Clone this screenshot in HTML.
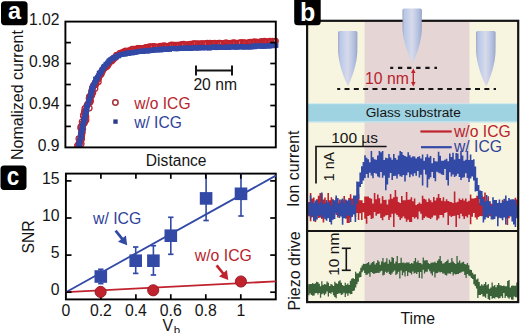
<!DOCTYPE html>
<html><head><meta charset="utf-8"><style>
html,body{margin:0;padding:0;background:#fff;}
body{width:520px;height:333px;overflow:hidden;font-family:"Liberation Sans",sans-serif;}
svg{display:block;}
</style></head><body>
<svg width="520" height="333" viewBox="0 0 520 333">
<rect x="1" y="1.2" width="26.6" height="24" rx="3.6" fill="#000"/>
<text x="14.5" y="19.3" font-family="Liberation Sans, sans-serif" font-size="23.5" fill="#fff" text-anchor="middle" font-weight="bold">a</text>
<clipPath id="ca"><rect x="65.4" y="21.6" width="215.4" height="125.80000000000001"/></clipPath>
<g clip-path="url(#ca)">
<g fill="none" stroke="#c0232e" stroke-width="1.25"><circle cx="76.6" cy="153.4" r="2.75"/><circle cx="77.9" cy="152.8" r="2.75"/><circle cx="77.8" cy="152.2" r="2.75"/><circle cx="78.9" cy="149.7" r="2.75"/><circle cx="77.9" cy="149.8" r="2.75"/><circle cx="79.2" cy="147.9" r="2.75"/><circle cx="77.5" cy="146.1" r="2.75"/><circle cx="77.7" cy="145.3" r="2.75"/><circle cx="81.3" cy="143.8" r="2.75"/><circle cx="79.0" cy="143.2" r="2.75"/><circle cx="80.6" cy="141.7" r="2.75"/><circle cx="80.1" cy="140.2" r="2.75"/><circle cx="81.7" cy="138.9" r="2.75"/><circle cx="78.8" cy="138.5" r="2.75"/><circle cx="81.3" cy="137.1" r="2.75"/><circle cx="81.8" cy="135.4" r="2.75"/><circle cx="81.2" cy="134.2" r="2.75"/><circle cx="81.7" cy="133.4" r="2.75"/><circle cx="82.4" cy="132.5" r="2.75"/><circle cx="81.4" cy="130.0" r="2.75"/><circle cx="82.8" cy="128.9" r="2.75"/><circle cx="80.7" cy="128.0" r="2.75"/><circle cx="80.8" cy="126.9" r="2.75"/><circle cx="83.0" cy="125.1" r="2.75"/><circle cx="82.4" cy="123.8" r="2.75"/><circle cx="84.4" cy="122.9" r="2.75"/><circle cx="82.1" cy="121.9" r="2.75"/><circle cx="85.1" cy="121.2" r="2.75"/><circle cx="86.1" cy="119.8" r="2.75"/><circle cx="84.9" cy="117.7" r="2.75"/><circle cx="86.0" cy="116.5" r="2.75"/><circle cx="83.4" cy="115.9" r="2.75"/><circle cx="83.4" cy="115.2" r="2.75"/><circle cx="85.4" cy="114.1" r="2.75"/><circle cx="85.3" cy="112.1" r="2.75"/><circle cx="84.3" cy="111.6" r="2.75"/><circle cx="85.7" cy="110.5" r="2.75"/><circle cx="84.8" cy="108.5" r="2.75"/><circle cx="89.3" cy="108.0" r="2.75"/><circle cx="86.7" cy="106.1" r="2.75"/><circle cx="87.6" cy="104.6" r="2.75"/><circle cx="87.7" cy="104.1" r="2.75"/><circle cx="89.3" cy="102.4" r="2.75"/><circle cx="90.2" cy="102.1" r="2.75"/><circle cx="90.0" cy="101.3" r="2.75"/><circle cx="90.6" cy="100.2" r="2.75"/><circle cx="89.0" cy="98.3" r="2.75"/><circle cx="89.4" cy="96.6" r="2.75"/><circle cx="89.9" cy="96.6" r="2.75"/><circle cx="91.7" cy="95.5" r="2.75"/><circle cx="91.4" cy="94.4" r="2.75"/><circle cx="92.9" cy="92.7" r="2.75"/><circle cx="91.6" cy="91.6" r="2.75"/><circle cx="91.9" cy="90.0" r="2.75"/><circle cx="95.0" cy="88.6" r="2.75"/><circle cx="92.7" cy="87.6" r="2.75"/><circle cx="92.8" cy="87.0" r="2.75"/><circle cx="93.5" cy="85.3" r="2.75"/><circle cx="95.7" cy="84.7" r="2.75"/><circle cx="95.7" cy="83.3" r="2.75"/><circle cx="96.2" cy="82.1" r="2.75"/><circle cx="98.4" cy="81.7" r="2.75"/><circle cx="96.9" cy="79.5" r="2.75"/><circle cx="98.4" cy="78.8" r="2.75"/><circle cx="98.5" cy="77.3" r="2.75"/><circle cx="98.9" cy="77.3" r="2.75"/><circle cx="99.6" cy="75.6" r="2.75"/><circle cx="101.1" cy="74.3" r="2.75"/><circle cx="101.4" cy="73.0" r="2.75"/><circle cx="101.1" cy="72.6" r="2.75"/><circle cx="102.4" cy="71.3" r="2.75"/><circle cx="102.6" cy="69.9" r="2.75"/><circle cx="103.7" cy="68.7" r="2.75"/><circle cx="104.3" cy="68.3" r="2.75"/><circle cx="105.1" cy="67.5" r="2.75"/><circle cx="106.6" cy="66.5" r="2.75"/><circle cx="107.1" cy="66.1" r="2.75"/><circle cx="108.0" cy="65.1" r="2.75"/><circle cx="108.2" cy="64.2" r="2.75"/><circle cx="109.0" cy="63.1" r="2.75"/><circle cx="109.7" cy="61.7" r="2.75"/><circle cx="111.7" cy="61.0" r="2.75"/><circle cx="112.6" cy="60.1" r="2.75"/><circle cx="112.8" cy="59.4" r="2.75"/><circle cx="113.9" cy="57.8" r="2.75"/><circle cx="114.8" cy="58.0" r="2.75"/><circle cx="116.4" cy="56.1" r="2.75"/><circle cx="116.6" cy="55.2" r="2.75"/><circle cx="117.7" cy="55.0" r="2.75"/><circle cx="119.2" cy="54.3" r="2.75"/><circle cx="120.1" cy="53.2" r="2.75"/><circle cx="122.2" cy="52.6" r="2.75"/><circle cx="123.2" cy="52.6" r="2.75"/><circle cx="124.2" cy="51.5" r="2.75"/><circle cx="125.6" cy="50.9" r="2.75"/><circle cx="126.8" cy="51.4" r="2.75"/><circle cx="128.2" cy="51.0" r="2.75"/><circle cx="129.6" cy="51.1" r="2.75"/><circle cx="129.8" cy="50.3" r="2.75"/><circle cx="131.7" cy="50.5" r="2.75"/><circle cx="132.2" cy="49.2" r="2.75"/><circle cx="133.9" cy="49.0" r="2.75"/><circle cx="135.6" cy="49.6" r="2.75"/><circle cx="137.0" cy="48.8" r="2.75"/><circle cx="138.0" cy="48.4" r="2.75"/><circle cx="138.3" cy="48.4" r="2.75"/><circle cx="140.0" cy="48.5" r="2.75"/><circle cx="140.9" cy="48.3" r="2.75"/><circle cx="143.3" cy="48.4" r="2.75"/><circle cx="143.4" cy="48.7" r="2.75"/><circle cx="144.8" cy="47.8" r="2.75"/><circle cx="146.2" cy="47.3" r="2.75"/><circle cx="147.0" cy="47.7" r="2.75"/><circle cx="149.4" cy="46.7" r="2.75"/><circle cx="150.3" cy="47.1" r="2.75"/><circle cx="150.9" cy="46.9" r="2.75"/><circle cx="152.6" cy="46.9" r="2.75"/><circle cx="153.3" cy="46.3" r="2.75"/><circle cx="155.2" cy="46.9" r="2.75"/><circle cx="156.0" cy="46.9" r="2.75"/><circle cx="156.9" cy="47.0" r="2.75"/><circle cx="158.3" cy="47.1" r="2.75"/><circle cx="160.2" cy="46.2" r="2.75"/><circle cx="161.5" cy="46.5" r="2.75"/><circle cx="162.3" cy="46.1" r="2.75"/><circle cx="164.0" cy="45.7" r="2.75"/><circle cx="164.9" cy="46.5" r="2.75"/><circle cx="165.8" cy="46.2" r="2.75"/><circle cx="167.3" cy="46.4" r="2.75"/><circle cx="168.7" cy="46.2" r="2.75"/><circle cx="170.6" cy="46.2" r="2.75"/><circle cx="170.8" cy="45.0" r="2.75"/><circle cx="172.0" cy="44.8" r="2.75"/><circle cx="173.9" cy="45.0" r="2.75"/><circle cx="175.7" cy="45.2" r="2.75"/><circle cx="176.9" cy="45.5" r="2.75"/><circle cx="177.8" cy="45.1" r="2.75"/><circle cx="178.2" cy="45.1" r="2.75"/><circle cx="180.5" cy="45.4" r="2.75"/><circle cx="181.5" cy="44.3" r="2.75"/><circle cx="182.0" cy="45.1" r="2.75"/><circle cx="183.7" cy="44.2" r="2.75"/><circle cx="184.4" cy="44.4" r="2.75"/><circle cx="186.7" cy="45.0" r="2.75"/><circle cx="187.8" cy="44.8" r="2.75"/><circle cx="189.2" cy="44.4" r="2.75"/><circle cx="190.4" cy="44.2" r="2.75"/><circle cx="191.0" cy="44.9" r="2.75"/><circle cx="192.9" cy="44.0" r="2.75"/><circle cx="193.4" cy="43.6" r="2.75"/><circle cx="194.5" cy="43.9" r="2.75"/><circle cx="196.1" cy="43.5" r="2.75"/><circle cx="197.5" cy="44.6" r="2.75"/><circle cx="198.5" cy="43.6" r="2.75"/><circle cx="200.2" cy="44.7" r="2.75"/><circle cx="201.4" cy="43.6" r="2.75"/><circle cx="202.2" cy="43.7" r="2.75"/><circle cx="203.9" cy="44.0" r="2.75"/><circle cx="204.8" cy="43.6" r="2.75"/><circle cx="206.6" cy="43.6" r="2.75"/><circle cx="207.2" cy="43.2" r="2.75"/><circle cx="209.2" cy="43.6" r="2.75"/><circle cx="209.9" cy="43.0" r="2.75"/><circle cx="211.3" cy="43.3" r="2.75"/><circle cx="212.8" cy="44.2" r="2.75"/><circle cx="213.8" cy="43.3" r="2.75"/><circle cx="214.7" cy="43.2" r="2.75"/><circle cx="216.9" cy="43.8" r="2.75"/><circle cx="217.0" cy="44.0" r="2.75"/><circle cx="218.5" cy="43.2" r="2.75"/><circle cx="220.1" cy="43.2" r="2.75"/><circle cx="220.6" cy="43.7" r="2.75"/><circle cx="222.0" cy="43.7" r="2.75"/><circle cx="224.2" cy="43.4" r="2.75"/><circle cx="225.4" cy="42.8" r="2.75"/><circle cx="226.5" cy="42.8" r="2.75"/><circle cx="228.1" cy="43.5" r="2.75"/><circle cx="229.1" cy="43.4" r="2.75"/><circle cx="229.7" cy="43.7" r="2.75"/><circle cx="231.5" cy="43.5" r="2.75"/><circle cx="232.3" cy="42.9" r="2.75"/><circle cx="234.1" cy="42.5" r="2.75"/><circle cx="234.9" cy="43.5" r="2.75"/><circle cx="235.8" cy="43.2" r="2.75"/><circle cx="238.0" cy="43.0" r="2.75"/><circle cx="239.0" cy="43.1" r="2.75"/><circle cx="240.4" cy="42.6" r="2.75"/><circle cx="241.3" cy="42.5" r="2.75"/><circle cx="242.9" cy="42.8" r="2.75"/><circle cx="243.7" cy="42.6" r="2.75"/><circle cx="245.1" cy="42.9" r="2.75"/><circle cx="245.6" cy="43.2" r="2.75"/><circle cx="247.6" cy="43.0" r="2.75"/><circle cx="249.2" cy="42.3" r="2.75"/><circle cx="250.3" cy="42.2" r="2.75"/><circle cx="251.7" cy="43.0" r="2.75"/><circle cx="252.5" cy="42.2" r="2.75"/><circle cx="254.3" cy="42.7" r="2.75"/><circle cx="254.5" cy="41.6" r="2.75"/><circle cx="256.8" cy="42.1" r="2.75"/><circle cx="257.3" cy="42.1" r="2.75"/><circle cx="258.2" cy="42.5" r="2.75"/><circle cx="260.2" cy="42.5" r="2.75"/><circle cx="261.2" cy="41.4" r="2.75"/><circle cx="262.4" cy="42.0" r="2.75"/><circle cx="264.2" cy="42.0" r="2.75"/><circle cx="264.5" cy="41.2" r="2.75"/><circle cx="266.4" cy="42.1" r="2.75"/><circle cx="267.4" cy="41.6" r="2.75"/><circle cx="268.8" cy="42.1" r="2.75"/><circle cx="270.0" cy="41.0" r="2.75"/><circle cx="270.7" cy="41.4" r="2.75"/><circle cx="272.5" cy="41.0" r="2.75"/><circle cx="274.2" cy="41.4" r="2.75"/><circle cx="274.5" cy="41.3" r="2.75"/><circle cx="275.5" cy="41.1" r="2.75"/></g>
<g fill="#3249a6"><rect x="75.7" y="151.5" width="4.7" height="4.7"/><rect x="76.0" y="150.3" width="4.7" height="4.7"/><rect x="75.6" y="149.6" width="4.7" height="4.7"/><rect x="75.3" y="149.0" width="4.7" height="4.7"/><rect x="76.2" y="147.6" width="4.7" height="4.7"/><rect x="76.6" y="147.0" width="4.7" height="4.7"/><rect x="77.4" y="145.4" width="4.7" height="4.7"/><rect x="77.4" y="144.7" width="4.7" height="4.7"/><rect x="76.2" y="143.7" width="4.7" height="4.7"/><rect x="77.1" y="142.8" width="4.7" height="4.7"/><rect x="76.3" y="141.5" width="4.7" height="4.7"/><rect x="77.6" y="141.0" width="4.7" height="4.7"/><rect x="77.5" y="140.3" width="4.7" height="4.7"/><rect x="77.2" y="139.2" width="4.7" height="4.7"/><rect x="77.8" y="137.3" width="4.7" height="4.7"/><rect x="77.5" y="136.9" width="4.7" height="4.7"/><rect x="77.7" y="135.7" width="4.7" height="4.7"/><rect x="78.8" y="135.0" width="4.7" height="4.7"/><rect x="78.9" y="133.4" width="4.7" height="4.7"/><rect x="78.2" y="133.2" width="4.7" height="4.7"/><rect x="78.4" y="131.8" width="4.7" height="4.7"/><rect x="78.4" y="131.4" width="4.7" height="4.7"/><rect x="78.9" y="129.4" width="4.7" height="4.7"/><rect x="79.9" y="128.9" width="4.7" height="4.7"/><rect x="78.9" y="128.0" width="4.7" height="4.7"/><rect x="80.3" y="127.4" width="4.7" height="4.7"/><rect x="80.6" y="126.3" width="4.7" height="4.7"/><rect x="79.3" y="124.7" width="4.7" height="4.7"/><rect x="80.1" y="123.9" width="4.7" height="4.7"/><rect x="80.3" y="123.4" width="4.7" height="4.7"/><rect x="80.8" y="122.0" width="4.7" height="4.7"/><rect x="81.1" y="120.9" width="4.7" height="4.7"/><rect x="81.2" y="120.6" width="4.7" height="4.7"/><rect x="81.8" y="119.6" width="4.7" height="4.7"/><rect x="81.9" y="118.1" width="4.7" height="4.7"/><rect x="81.1" y="117.3" width="4.7" height="4.7"/><rect x="82.8" y="116.7" width="4.7" height="4.7"/><rect x="81.9" y="115.0" width="4.7" height="4.7"/><rect x="82.3" y="114.8" width="4.7" height="4.7"/><rect x="82.1" y="113.8" width="4.7" height="4.7"/><rect x="82.7" y="112.6" width="4.7" height="4.7"/><rect x="83.5" y="111.6" width="4.7" height="4.7"/><rect x="82.8" y="110.6" width="4.7" height="4.7"/><rect x="84.2" y="109.5" width="4.7" height="4.7"/><rect x="83.4" y="108.5" width="4.7" height="4.7"/><rect x="84.6" y="107.1" width="4.7" height="4.7"/><rect x="83.8" y="106.6" width="4.7" height="4.7"/><rect x="84.6" y="105.7" width="4.7" height="4.7"/><rect x="84.1" y="104.5" width="4.7" height="4.7"/><rect x="84.6" y="103.8" width="4.7" height="4.7"/><rect x="85.5" y="102.6" width="4.7" height="4.7"/><rect x="85.3" y="102.0" width="4.7" height="4.7"/><rect x="85.9" y="100.9" width="4.7" height="4.7"/><rect x="86.2" y="99.3" width="4.7" height="4.7"/><rect x="86.0" y="99.1" width="4.7" height="4.7"/><rect x="86.9" y="97.6" width="4.7" height="4.7"/><rect x="87.4" y="96.4" width="4.7" height="4.7"/><rect x="87.2" y="95.5" width="4.7" height="4.7"/><rect x="87.3" y="94.7" width="4.7" height="4.7"/><rect x="88.4" y="94.0" width="4.7" height="4.7"/><rect x="88.4" y="92.8" width="4.7" height="4.7"/><rect x="88.4" y="91.7" width="4.7" height="4.7"/><rect x="88.6" y="91.4" width="4.7" height="4.7"/><rect x="88.6" y="90.0" width="4.7" height="4.7"/><rect x="89.5" y="89.6" width="4.7" height="4.7"/><rect x="90.0" y="87.9" width="4.7" height="4.7"/><rect x="89.2" y="87.5" width="4.7" height="4.7"/><rect x="89.3" y="86.2" width="4.7" height="4.7"/><rect x="90.7" y="85.8" width="4.7" height="4.7"/><rect x="90.0" y="84.6" width="4.7" height="4.7"/><rect x="90.8" y="83.7" width="4.7" height="4.7"/><rect x="91.8" y="82.1" width="4.7" height="4.7"/><rect x="91.7" y="81.9" width="4.7" height="4.7"/><rect x="92.1" y="80.6" width="4.7" height="4.7"/><rect x="92.3" y="80.1" width="4.7" height="4.7"/><rect x="93.3" y="79.3" width="4.7" height="4.7"/><rect x="93.7" y="77.6" width="4.7" height="4.7"/><rect x="93.1" y="76.6" width="4.7" height="4.7"/><rect x="94.0" y="76.6" width="4.7" height="4.7"/><rect x="95.2" y="75.9" width="4.7" height="4.7"/><rect x="95.1" y="75.0" width="4.7" height="4.7"/><rect x="95.8" y="73.6" width="4.7" height="4.7"/><rect x="96.5" y="73.2" width="4.7" height="4.7"/><rect x="96.9" y="71.4" width="4.7" height="4.7"/><rect x="96.8" y="70.6" width="4.7" height="4.7"/><rect x="98.6" y="70.3" width="4.7" height="4.7"/><rect x="98.6" y="69.4" width="4.7" height="4.7"/><rect x="99.1" y="68.9" width="4.7" height="4.7"/><rect x="99.4" y="67.5" width="4.7" height="4.7"/><rect x="100.2" y="66.9" width="4.7" height="4.7"/><rect x="100.6" y="66.7" width="4.7" height="4.7"/><rect x="101.0" y="65.1" width="4.7" height="4.7"/><rect x="101.4" y="64.4" width="4.7" height="4.7"/><rect x="102.2" y="63.9" width="4.7" height="4.7"/><rect x="102.9" y="63.5" width="4.7" height="4.7"/><rect x="103.5" y="61.9" width="4.7" height="4.7"/><rect x="104.7" y="61.6" width="4.7" height="4.7"/><rect x="105.2" y="60.6" width="4.7" height="4.7"/><rect x="105.9" y="59.8" width="4.7" height="4.7"/><rect x="106.8" y="58.9" width="4.7" height="4.7"/><rect x="106.7" y="58.4" width="4.7" height="4.7"/><rect x="107.8" y="57.9" width="4.7" height="4.7"/><rect x="108.3" y="57.1" width="4.7" height="4.7"/><rect x="109.5" y="56.7" width="4.7" height="4.7"/><rect x="109.9" y="56.3" width="4.7" height="4.7"/><rect x="110.8" y="56.0" width="4.7" height="4.7"/><rect x="111.7" y="55.2" width="4.7" height="4.7"/><rect x="112.9" y="54.6" width="4.7" height="4.7"/><rect x="114.2" y="54.8" width="4.7" height="4.7"/><rect x="114.6" y="53.5" width="4.7" height="4.7"/><rect x="116.1" y="53.0" width="4.7" height="4.7"/><rect x="116.4" y="53.6" width="4.7" height="4.7"/><rect x="117.4" y="52.6" width="4.7" height="4.7"/><rect x="118.6" y="52.2" width="4.7" height="4.7"/><rect x="119.1" y="52.1" width="4.7" height="4.7"/><rect x="120.5" y="51.8" width="4.7" height="4.7"/><rect x="121.6" y="51.6" width="4.7" height="4.7"/><rect x="122.9" y="51.9" width="4.7" height="4.7"/><rect x="123.0" y="51.1" width="4.7" height="4.7"/><rect x="124.8" y="50.7" width="4.7" height="4.7"/><rect x="125.5" y="50.6" width="4.7" height="4.7"/><rect x="126.5" y="51.2" width="4.7" height="4.7"/><rect x="126.9" y="50.5" width="4.7" height="4.7"/><rect x="128.8" y="50.3" width="4.7" height="4.7"/><rect x="129.1" y="50.6" width="4.7" height="4.7"/><rect x="130.4" y="50.6" width="4.7" height="4.7"/><rect x="131.4" y="50.0" width="4.7" height="4.7"/><rect x="132.8" y="50.2" width="4.7" height="4.7"/><rect x="133.5" y="49.5" width="4.7" height="4.7"/><rect x="134.9" y="49.4" width="4.7" height="4.7"/><rect x="135.0" y="49.6" width="4.7" height="4.7"/><rect x="136.5" y="49.1" width="4.7" height="4.7"/><rect x="137.4" y="49.0" width="4.7" height="4.7"/><rect x="138.3" y="48.8" width="4.7" height="4.7"/><rect x="139.4" y="48.7" width="4.7" height="4.7"/><rect x="140.3" y="49.3" width="4.7" height="4.7"/><rect x="141.1" y="49.1" width="4.7" height="4.7"/><rect x="142.4" y="48.3" width="4.7" height="4.7"/><rect x="142.8" y="48.4" width="4.7" height="4.7"/><rect x="144.2" y="48.7" width="4.7" height="4.7"/><rect x="145.2" y="48.8" width="4.7" height="4.7"/><rect x="145.9" y="48.4" width="4.7" height="4.7"/><rect x="147.3" y="48.5" width="4.7" height="4.7"/><rect x="148.4" y="47.8" width="4.7" height="4.7"/><rect x="148.8" y="48.3" width="4.7" height="4.7"/><rect x="150.0" y="48.3" width="4.7" height="4.7"/><rect x="150.8" y="47.8" width="4.7" height="4.7"/><rect x="152.3" y="47.5" width="4.7" height="4.7"/><rect x="152.8" y="47.2" width="4.7" height="4.7"/><rect x="153.9" y="47.8" width="4.7" height="4.7"/><rect x="155.2" y="47.7" width="4.7" height="4.7"/><rect x="156.2" y="46.9" width="4.7" height="4.7"/><rect x="156.7" y="47.4" width="4.7" height="4.7"/><rect x="158.7" y="47.8" width="4.7" height="4.7"/><rect x="158.9" y="46.7" width="4.7" height="4.7"/><rect x="160.3" y="46.8" width="4.7" height="4.7"/><rect x="160.9" y="46.6" width="4.7" height="4.7"/><rect x="162.3" y="47.0" width="4.7" height="4.7"/><rect x="163.0" y="46.8" width="4.7" height="4.7"/><rect x="164.0" y="47.3" width="4.7" height="4.7"/><rect x="165.2" y="46.4" width="4.7" height="4.7"/><rect x="166.3" y="46.4" width="4.7" height="4.7"/><rect x="167.3" y="47.2" width="4.7" height="4.7"/><rect x="168.4" y="46.1" width="4.7" height="4.7"/><rect x="168.9" y="46.3" width="4.7" height="4.7"/><rect x="169.7" y="46.4" width="4.7" height="4.7"/><rect x="170.9" y="45.9" width="4.7" height="4.7"/><rect x="172.0" y="46.2" width="4.7" height="4.7"/><rect x="173.3" y="46.5" width="4.7" height="4.7"/><rect x="174.1" y="46.4" width="4.7" height="4.7"/><rect x="175.0" y="46.4" width="4.7" height="4.7"/><rect x="175.7" y="46.4" width="4.7" height="4.7"/><rect x="177.3" y="46.3" width="4.7" height="4.7"/><rect x="177.8" y="45.6" width="4.7" height="4.7"/><rect x="179.2" y="46.2" width="4.7" height="4.7"/><rect x="180.4" y="46.1" width="4.7" height="4.7"/><rect x="181.3" y="45.7" width="4.7" height="4.7"/><rect x="181.8" y="45.9" width="4.7" height="4.7"/><rect x="183.0" y="45.6" width="4.7" height="4.7"/><rect x="184.7" y="46.3" width="4.7" height="4.7"/><rect x="184.7" y="45.6" width="4.7" height="4.7"/><rect x="186.4" y="45.4" width="4.7" height="4.7"/><rect x="187.1" y="46.1" width="4.7" height="4.7"/><rect x="188.3" y="46.0" width="4.7" height="4.7"/><rect x="189.1" y="46.1" width="4.7" height="4.7"/><rect x="189.8" y="45.8" width="4.7" height="4.7"/><rect x="191.2" y="45.5" width="4.7" height="4.7"/><rect x="191.6" y="45.5" width="4.7" height="4.7"/><rect x="193.6" y="45.6" width="4.7" height="4.7"/><rect x="194.5" y="45.6" width="4.7" height="4.7"/><rect x="195.0" y="46.0" width="4.7" height="4.7"/><rect x="196.2" y="45.2" width="4.7" height="4.7"/><rect x="197.2" y="45.7" width="4.7" height="4.7"/><rect x="198.7" y="44.8" width="4.7" height="4.7"/><rect x="198.7" y="45.0" width="4.7" height="4.7"/><rect x="199.9" y="45.8" width="4.7" height="4.7"/><rect x="201.1" y="45.0" width="4.7" height="4.7"/><rect x="202.5" y="45.3" width="4.7" height="4.7"/><rect x="203.4" y="45.7" width="4.7" height="4.7"/><rect x="204.1" y="45.4" width="4.7" height="4.7"/><rect x="204.6" y="45.2" width="4.7" height="4.7"/><rect x="206.3" y="45.4" width="4.7" height="4.7"/><rect x="207.1" y="45.7" width="4.7" height="4.7"/><rect x="207.7" y="45.6" width="4.7" height="4.7"/><rect x="209.3" y="44.8" width="4.7" height="4.7"/><rect x="210.1" y="44.7" width="4.7" height="4.7"/><rect x="211.0" y="44.8" width="4.7" height="4.7"/><rect x="211.9" y="44.7" width="4.7" height="4.7"/><rect x="213.2" y="45.3" width="4.7" height="4.7"/><rect x="213.9" y="45.4" width="4.7" height="4.7"/><rect x="215.1" y="44.6" width="4.7" height="4.7"/><rect x="216.7" y="44.5" width="4.7" height="4.7"/><rect x="217.1" y="44.8" width="4.7" height="4.7"/><rect x="217.9" y="45.1" width="4.7" height="4.7"/><rect x="219.2" y="45.2" width="4.7" height="4.7"/><rect x="220.6" y="44.9" width="4.7" height="4.7"/><rect x="221.6" y="45.0" width="4.7" height="4.7"/><rect x="222.4" y="45.3" width="4.7" height="4.7"/><rect x="223.6" y="45.3" width="4.7" height="4.7"/><rect x="224.4" y="44.4" width="4.7" height="4.7"/><rect x="225.4" y="45.0" width="4.7" height="4.7"/><rect x="226.1" y="45.1" width="4.7" height="4.7"/><rect x="226.8" y="45.2" width="4.7" height="4.7"/><rect x="228.4" y="44.7" width="4.7" height="4.7"/><rect x="229.3" y="44.3" width="4.7" height="4.7"/><rect x="230.7" y="44.7" width="4.7" height="4.7"/><rect x="231.0" y="44.5" width="4.7" height="4.7"/><rect x="232.6" y="44.5" width="4.7" height="4.7"/><rect x="232.9" y="45.0" width="4.7" height="4.7"/><rect x="234.7" y="44.8" width="4.7" height="4.7"/><rect x="235.7" y="44.8" width="4.7" height="4.7"/><rect x="235.7" y="44.7" width="4.7" height="4.7"/><rect x="237.0" y="44.1" width="4.7" height="4.7"/><rect x="238.7" y="44.0" width="4.7" height="4.7"/><rect x="239.7" y="44.4" width="4.7" height="4.7"/><rect x="240.3" y="44.8" width="4.7" height="4.7"/><rect x="240.8" y="44.6" width="4.7" height="4.7"/><rect x="241.6" y="44.7" width="4.7" height="4.7"/><rect x="242.9" y="44.5" width="4.7" height="4.7"/><rect x="244.6" y="44.6" width="4.7" height="4.7"/><rect x="245.5" y="44.8" width="4.7" height="4.7"/><rect x="246.1" y="44.5" width="4.7" height="4.7"/><rect x="247.4" y="44.6" width="4.7" height="4.7"/><rect x="248.6" y="44.7" width="4.7" height="4.7"/><rect x="248.9" y="44.4" width="4.7" height="4.7"/><rect x="250.6" y="44.5" width="4.7" height="4.7"/><rect x="250.9" y="43.6" width="4.7" height="4.7"/><rect x="252.0" y="43.5" width="4.7" height="4.7"/><rect x="252.7" y="44.5" width="4.7" height="4.7"/><rect x="253.8" y="43.7" width="4.7" height="4.7"/><rect x="255.2" y="43.7" width="4.7" height="4.7"/><rect x="255.6" y="43.5" width="4.7" height="4.7"/><rect x="257.2" y="44.0" width="4.7" height="4.7"/><rect x="257.8" y="43.3" width="4.7" height="4.7"/><rect x="259.4" y="44.1" width="4.7" height="4.7"/><rect x="259.7" y="43.5" width="4.7" height="4.7"/><rect x="260.8" y="43.9" width="4.7" height="4.7"/><rect x="261.9" y="44.1" width="4.7" height="4.7"/><rect x="263.2" y="43.8" width="4.7" height="4.7"/><rect x="264.5" y="43.4" width="4.7" height="4.7"/><rect x="265.4" y="43.6" width="4.7" height="4.7"/><rect x="266.4" y="43.8" width="4.7" height="4.7"/><rect x="267.3" y="43.6" width="4.7" height="4.7"/><rect x="268.2" y="43.0" width="4.7" height="4.7"/><rect x="269.0" y="42.7" width="4.7" height="4.7"/><rect x="269.8" y="43.6" width="4.7" height="4.7"/><rect x="271.5" y="43.3" width="4.7" height="4.7"/><rect x="272.0" y="42.6" width="4.7" height="4.7"/><rect x="273.3" y="43.1" width="4.7" height="4.7"/><rect x="273.7" y="43.1" width="4.7" height="4.7"/></g>
</g>
<rect x="65.4" y="21.6" width="210.4" height="125.80000000000001" fill="none" stroke="#000" stroke-width="1.9"/>
<line x1="65.4" y1="126.4" x2="70.9" y2="126.4" stroke="#000" stroke-width="1.7"/>
<line x1="275.8" y1="126.4" x2="270.3" y2="126.4" stroke="#000" stroke-width="1.7"/>
<line x1="65.4" y1="105.5" x2="70.9" y2="105.5" stroke="#000" stroke-width="1.7"/>
<line x1="275.8" y1="105.5" x2="270.3" y2="105.5" stroke="#000" stroke-width="1.7"/>
<line x1="65.4" y1="84.5" x2="70.9" y2="84.5" stroke="#000" stroke-width="1.7"/>
<line x1="275.8" y1="84.5" x2="270.3" y2="84.5" stroke="#000" stroke-width="1.7"/>
<line x1="65.4" y1="63.5" x2="70.9" y2="63.5" stroke="#000" stroke-width="1.7"/>
<line x1="275.8" y1="63.5" x2="270.3" y2="63.5" stroke="#000" stroke-width="1.7"/>
<line x1="65.4" y1="42.6" x2="70.9" y2="42.6" stroke="#000" stroke-width="1.7"/>
<line x1="275.8" y1="42.6" x2="270.3" y2="42.6" stroke="#000" stroke-width="1.7"/>
<text x="59.5" y="24.7" font-family="Liberation Sans, sans-serif" font-size="15.7" fill="#151515" text-anchor="end">1.02</text>
<text x="59.5" y="66.6" font-family="Liberation Sans, sans-serif" font-size="15.7" fill="#151515" text-anchor="end">0.98</text>
<text x="59.5" y="108.6" font-family="Liberation Sans, sans-serif" font-size="15.7" fill="#151515" text-anchor="end">0.94</text>
<text x="59.5" y="150.5" font-family="Liberation Sans, sans-serif" font-size="15.7" fill="#151515" text-anchor="end">0.9</text>
<text transform="translate(22.7,95.1) rotate(-90)" font-family="Liberation Sans, sans-serif" font-size="16" fill="#151515" text-anchor="middle">Nomalized current</text>
<text x="176.2" y="166.4" font-family="Liberation Sans, sans-serif" font-size="15.6" fill="#151515" text-anchor="middle">Distance</text>
<line x1="196" y1="70.4" x2="232" y2="70.4" stroke="#151515" stroke-width="2"/>
<line x1="196" y1="65.4" x2="196" y2="75.4" stroke="#151515" stroke-width="2"/>
<line x1="232" y1="65.4" x2="232" y2="75.4" stroke="#151515" stroke-width="2"/>
<text x="215.2" y="90.4" font-family="Liberation Sans, sans-serif" font-size="15.7" fill="#151515" text-anchor="middle">20 nm</text>
<circle cx="115.4" cy="102.5" r="2.7" fill="none" stroke="#a83035" stroke-width="1.5"/>
<rect x="113.3" y="119.4" width="4.4" height="4.4" fill="#2e3d8a"/>
<text x="134.2" y="108.7" font-family="Liberation Sans, sans-serif" font-size="15.6" fill="#b7242c">w/o ICG</text>
<text x="134.2" y="128" font-family="Liberation Sans, sans-serif" font-size="15.6" fill="#30429a">w/ ICG</text>
<rect x="0.5" y="165.4" width="26" height="24.5" rx="3.6" fill="#000"/>
<text transform="translate(13,185.1) scale(0.9,1)" font-family="Liberation Sans, sans-serif" font-size="25" font-weight="bold" fill="#fff" text-anchor="middle">c</text>
<rect x="65.9" y="173.6" width="209.9" height="125.8" fill="none" stroke="#000" stroke-width="1.9"/>
<line x1="100.9" y1="299.4" x2="100.9" y2="294.2" stroke="#000" stroke-width="1.7"/>
<line x1="135.9" y1="299.4" x2="135.9" y2="294.2" stroke="#000" stroke-width="1.7"/>
<line x1="170.8" y1="299.4" x2="170.8" y2="294.2" stroke="#000" stroke-width="1.7"/>
<line x1="205.8" y1="299.4" x2="205.8" y2="294.2" stroke="#000" stroke-width="1.7"/>
<line x1="240.8" y1="299.4" x2="240.8" y2="294.2" stroke="#000" stroke-width="1.7"/>
<line x1="65.9" y1="292.2" x2="275.8" y2="175.6" stroke="#3249a6" stroke-width="1.8"/>
<line x1="65.9" y1="292.2" x2="275.8" y2="281.4" stroke="#c0232e" stroke-width="1.8"/>
<line x1="100.8" y1="283.6" x2="100.8" y2="269.3" stroke="#3249a6" stroke-width="1.6"/>
<line x1="98.1" y1="283.6" x2="103.5" y2="283.6" stroke="#3249a6" stroke-width="1.7"/>
<line x1="98.1" y1="269.3" x2="103.5" y2="269.3" stroke="#3249a6" stroke-width="1.7"/>
<rect x="94.5" y="270.2" width="12.6" height="12.6" fill="#3249a6"/>
<line x1="135.7" y1="273.4" x2="135.7" y2="247" stroke="#3249a6" stroke-width="1.6"/>
<line x1="133" y1="273.4" x2="138.4" y2="273.4" stroke="#3249a6" stroke-width="1.7"/>
<line x1="133" y1="247" x2="138.4" y2="247" stroke="#3249a6" stroke-width="1.7"/>
<rect x="129.4" y="254.4" width="12.6" height="12.6" fill="#3249a6"/>
<line x1="153.4" y1="275" x2="153.4" y2="245.7" stroke="#3249a6" stroke-width="1.6"/>
<line x1="150.7" y1="275" x2="156.1" y2="275" stroke="#3249a6" stroke-width="1.7"/>
<line x1="150.7" y1="245.7" x2="156.1" y2="245.7" stroke="#3249a6" stroke-width="1.7"/>
<rect x="147.1" y="254.4" width="12.6" height="12.6" fill="#3249a6"/>
<line x1="170.8" y1="254.3" x2="170.8" y2="217.3" stroke="#3249a6" stroke-width="1.6"/>
<line x1="168.1" y1="254.3" x2="173.5" y2="254.3" stroke="#3249a6" stroke-width="1.7"/>
<line x1="168.1" y1="217.3" x2="173.5" y2="217.3" stroke="#3249a6" stroke-width="1.7"/>
<rect x="164.5" y="229.4" width="12.6" height="12.6" fill="#3249a6"/>
<line x1="206.1" y1="220.5" x2="206.1" y2="174" stroke="#3249a6" stroke-width="1.6"/>
<line x1="203.4" y1="220.5" x2="208.8" y2="220.5" stroke="#3249a6" stroke-width="1.7"/>
<rect x="199.8" y="192.1" width="12.6" height="12.6" fill="#3249a6"/>
<line x1="241" y1="216" x2="241" y2="173.6" stroke="#3249a6" stroke-width="1.6"/>
<line x1="238.3" y1="216" x2="243.7" y2="216" stroke="#3249a6" stroke-width="1.7"/>
<rect x="234.7" y="187.5" width="12.6" height="12.6" fill="#3249a6"/>
<circle cx="100.6" cy="291.9" r="5.6" fill="#c0232e" stroke="#921a23" stroke-width="0.9"/>
<circle cx="153.2" cy="290.3" r="5.6" fill="#c0232e" stroke="#921a23" stroke-width="0.9"/>
<circle cx="240.9" cy="281.5" r="5.6" fill="#c0232e" stroke="#921a23" stroke-width="0.9"/>
<line x1="100.9" y1="173.6" x2="100.9" y2="178.8" stroke="#000" stroke-width="1.7"/>
<line x1="135.9" y1="173.6" x2="135.9" y2="178.8" stroke="#000" stroke-width="1.7"/>
<line x1="170.8" y1="173.6" x2="170.8" y2="178.8" stroke="#000" stroke-width="1.7"/>
<line x1="205.8" y1="173.6" x2="205.8" y2="178.8" stroke="#000" stroke-width="1.7"/>
<line x1="240.8" y1="173.6" x2="240.8" y2="178.8" stroke="#000" stroke-width="1.7"/>
<line x1="65.9" y1="292.2" x2="71.5" y2="292.2" stroke="#000" stroke-width="1.7"/>
<line x1="275.8" y1="292.2" x2="270.2" y2="292.2" stroke="#000" stroke-width="1.7"/>
<text x="59.6" y="295.3" font-family="Liberation Sans, sans-serif" font-size="15.8" fill="#151515" text-anchor="end">0</text>
<line x1="65.9" y1="255.1" x2="71.5" y2="255.1" stroke="#000" stroke-width="1.7"/>
<line x1="275.8" y1="255.1" x2="270.2" y2="255.1" stroke="#000" stroke-width="1.7"/>
<text x="59.6" y="258.2" font-family="Liberation Sans, sans-serif" font-size="15.8" fill="#151515" text-anchor="end">5</text>
<line x1="65.9" y1="218" x2="71.5" y2="218" stroke="#000" stroke-width="1.7"/>
<line x1="275.8" y1="218" x2="270.2" y2="218" stroke="#000" stroke-width="1.7"/>
<text x="59.6" y="221.1" font-family="Liberation Sans, sans-serif" font-size="15.8" fill="#151515" text-anchor="end">10</text>
<line x1="65.9" y1="180.9" x2="71.5" y2="180.9" stroke="#000" stroke-width="1.7"/>
<line x1="275.8" y1="180.9" x2="270.2" y2="180.9" stroke="#000" stroke-width="1.7"/>
<text x="59.6" y="184" font-family="Liberation Sans, sans-serif" font-size="15.8" fill="#151515" text-anchor="end">15</text>
<text x="65.9" y="316.1" font-family="Liberation Sans, sans-serif" font-size="15.8" fill="#151515" text-anchor="middle">0</text>
<text x="100.9" y="316.1" font-family="Liberation Sans, sans-serif" font-size="15.8" fill="#151515" text-anchor="middle">0.2</text>
<text x="135.9" y="316.1" font-family="Liberation Sans, sans-serif" font-size="15.8" fill="#151515" text-anchor="middle">0.4</text>
<text x="170.8" y="316.1" font-family="Liberation Sans, sans-serif" font-size="15.8" fill="#151515" text-anchor="middle">0.6</text>
<text x="205.8" y="316.1" font-family="Liberation Sans, sans-serif" font-size="15.8" fill="#151515" text-anchor="middle">0.8</text>
<text x="240.8" y="316.1" font-family="Liberation Sans, sans-serif" font-size="15.8" fill="#151515" text-anchor="middle">1</text>
<text x="162.4" y="330.9" font-family="Liberation Sans, sans-serif" font-size="15.8" fill="#151515">V<tspan font-size="11.5" dx="0.8" dy="3">b</tspan></text>
<text transform="translate(34.2,236.9) rotate(-90)" font-family="Liberation Sans, sans-serif" font-size="15.8" fill="#151515" text-anchor="middle">SNR</text>
<text x="93" y="223.6" font-family="Liberation Sans, sans-serif" font-size="15.8" fill="#30429a">w/ ICG</text>
<text x="194.8" y="261.3" font-family="Liberation Sans, sans-serif" font-size="15.8" fill="#b7242c">w/o ICG</text>
<line x1="115.6" y1="230.6" x2="122.6" y2="239.4" stroke="#3249a6" stroke-width="2.7"/>
<polygon points="127.2,245.3 118,241.7 125.9,235.5" fill="#3249a6"/>
<line x1="216.6" y1="265.3" x2="223.6" y2="274" stroke="#c0232e" stroke-width="2.7"/>
<polygon points="228.3,279.9 219.1,276.4 226.9,270.1" fill="#c0232e"/>
<rect x="307.1" y="20.8" width="211.1" height="281.3" fill="#f7f4df"/>
<rect x="364.6" y="20.8" width="104.9" height="281.3" fill="#e5d5d5"/>
<rect x="307.1" y="103.3" width="211.1" height="19.3" fill="#c6e5ee"/>
<rect x="307.1" y="104.2" width="211.1" height="17.0" fill="#a0d3e2"/>
<text x="365.7" y="117" font-family="Liberation Sans, sans-serif" font-size="13.7" fill="#151515">Glass substrate</text>
<defs><linearGradient id="tg" x1="0" x2="1" y1="0" y2="0"><stop offset="0" stop-color="#98a2c0"/><stop offset="0.1" stop-color="#b9c6e4"/><stop offset="0.28" stop-color="#c4d0ec"/><stop offset="0.48" stop-color="#d8dae8"/><stop offset="0.62" stop-color="#cbd1e8"/><stop offset="0.82" stop-color="#b2bfe0"/><stop offset="0.94" stop-color="#a4b0d0"/><stop offset="1" stop-color="#8f9ab8"/></linearGradient></defs>
<line x1="390.2" y1="67.9" x2="437" y2="67.9" stroke="#151515" stroke-width="2.2" stroke-dasharray="4.3,4.8" stroke-dashoffset="1.3"/>
<line x1="337.2" y1="89" x2="496" y2="89" stroke="#151515" stroke-width="2.2" stroke-dasharray="5,4.32" stroke-dashoffset="2"/>
<text x="365" y="83.8" font-family="Liberation Sans, sans-serif" font-size="15.8" fill="#b7242c">10 nm</text>
<line x1="413.3" y1="72" x2="413.3" y2="83" stroke="#c0232e" stroke-width="1.4"/>
<polygon points="413.3,68.5 411,73 415.6,73" fill="#c0232e"/>
<polygon points="413.3,86.5 411,82 415.6,82" fill="#c0232e"/>
<polygon points="308.2,201.9 309.8,201.9 309.8,193.1 311.4,193.1 311.4,198.5 313,198.5 313,197.5 314.6,197.5 314.6,203.2 316.2,203.2 316.2,199.2 317.8,199.2 317.8,195.8 319.4,195.8 319.4,193 321,193 321,193.9 322.6,193.9 322.6,199.4 324.2,199.4 324.2,197.4 325.8,197.4 325.8,202.2 327.4,202.2 327.4,192.9 329,192.9 329,200.2 330.6,200.2 330.6,197.2 332.2,197.2 332.2,199.6 333.8,199.6 333.8,207 335.4,207 335.4,197.6 337,197.6 337,203.1 338.6,203.1 338.6,199.4 340.2,199.4 340.2,202.1 341.8,202.1 341.8,200.2 343.4,200.2 343.4,196 345,196 345,200.6 346.6,200.6 346.6,203.2 348.2,203.2 348.2,198 349.8,198 349.8,194.3 351.4,194.3 351.4,198.6 353,198.6 353,199.5 354.6,199.5 354.6,201.8 356.2,201.8 356.2,195.8 357.8,195.8 357.8,194.2 359.4,194.2 359.4,200.3 361,200.3 361,200.2 362.6,200.2 362.6,203.1 364.2,203.1 364.2,196.4 365.8,196.4 365.8,196.5 367.4,196.5 367.4,196.5 369,196.5 369,198.1 370.6,198.1 370.6,198.8 372.2,198.8 372.2,203.5 373.8,203.5 373.8,192.9 375.4,192.9 375.4,199.2 377,199.2 377,194.6 378.6,194.6 378.6,198.3 380.2,198.3 380.2,203.6 381.8,203.6 381.8,196.2 383.4,196.2 383.4,199.9 385,199.9 385,199.8 386.6,199.8 386.6,204.5 388.2,204.5 388.2,199.4 389.8,199.4 389.8,194 391.4,194 391.4,198.7 393,198.7 393,197.2 394.6,197.2 394.6,190 396.2,190 396.2,196.7 397.8,196.7 397.8,202 399.4,202 399.4,203 401,203 401,196.1 402.6,196.1 402.6,200.3 404.2,200.3 404.2,200.2 405.8,200.2 405.8,191.9 407.4,191.9 407.4,199.8 409,199.8 409,199.6 410.6,199.6 410.6,197.3 412.2,197.3 412.2,201.2 413.8,201.2 413.8,198.6 415.4,198.6 415.4,205.1 417,205.1 417,204 418.6,204 418.6,202.6 420.2,202.6 420.2,203.7 421.8,203.7 421.8,195.8 423.4,195.8 423.4,198.8 425,198.8 425,199.4 426.6,199.4 426.6,202.1 428.2,202.1 428.2,198.4 429.8,198.4 429.8,200.3 431.4,200.3 431.4,202.3 433,202.3 433,196.9 434.6,196.9 434.6,200.4 436.2,200.4 436.2,197.7 437.8,197.7 437.8,194.1 439.4,194.1 439.4,197.9 441,197.9 441,200.8 442.6,200.8 442.6,197.2 444.2,197.2 444.2,201.2 445.8,201.2 445.8,199.2 447.4,199.2 447.4,201 449,201 449,201.7 450.6,201.7 450.6,202.1 452.2,202.1 452.2,202.9 453.8,202.9 453.8,191.5 455.4,191.5 455.4,202.4 457,202.4 457,201.7 458.6,201.7 458.6,198.4 460.2,198.4 460.2,199.9 461.8,199.9 461.8,198.6 463.4,198.6 463.4,200.5 465,200.5 465,198.4 466.6,198.4 466.6,201.7 468.2,201.7 468.2,200.8 469.8,200.8 469.8,194.4 471.4,194.4 471.4,198.5 473,198.5 473,198.4 474.6,198.4 474.6,197.9 476.2,197.9 476.2,195.8 477.8,195.8 477.8,196.1 479.4,196.1 479.4,203 481,203 481,195.3 482.6,195.3 482.6,196.7 484.2,196.7 484.2,192.4 485.8,192.4 485.8,201.1 487.4,201.1 487.4,196.3 489,196.3 489,201.5 490.6,201.5 490.6,203.8 492.2,203.8 492.2,204.3 493.8,204.3 493.8,200 495.4,200 495.4,202.9 497,202.9 497,203.3 498.6,203.3 498.6,202.6 500.2,202.6 500.2,203.4 501.8,203.4 501.8,199.8 503.4,199.8 503.4,202.1 505,202.1 505,200.4 506.6,200.4 506.6,203.4 508.2,203.4 508.2,202.8 509.8,202.8 509.8,200 511.4,200 511.4,200.2 513,200.2 513,202.2 514.6,202.2 514.6,197.7 516.2,197.7 516.2,199.4 517.8,199.4 517.8,215.4 516.2,215.4 516.2,216.5 514.6,216.5 514.6,215.7 513,215.7 513,214.5 511.4,214.5 511.4,214.4 509.8,214.4 509.8,218.2 508.2,218.2 508.2,224.9 506.6,224.9 506.6,214.9 505,214.9 505,216.7 503.4,216.7 503.4,216.3 501.8,216.3 501.8,214.9 500.2,214.9 500.2,215.7 498.6,215.7 498.6,218.8 497,218.8 497,213.2 495.4,213.2 495.4,211.3 493.8,211.3 493.8,215.4 492.2,215.4 492.2,216.4 490.6,216.4 490.6,216.3 489,216.3 489,217.9 487.4,217.9 487.4,212.5 485.8,212.5 485.8,213.8 484.2,213.8 484.2,216.1 482.6,216.1 482.6,216.3 481,216.3 481,216.1 479.4,216.1 479.4,217.1 477.8,217.1 477.8,219.5 476.2,219.5 476.2,217.5 474.6,217.5 474.6,213 473,213 473,216.7 471.4,216.7 471.4,224.3 469.8,224.3 469.8,214.7 468.2,214.7 468.2,217.5 466.6,217.5 466.6,216.3 465,216.3 465,219.1 463.4,219.1 463.4,216.3 461.8,216.3 461.8,213.7 460.2,213.7 460.2,218.6 458.6,218.6 458.6,215 457,215 457,227 455.4,227 455.4,215.8 453.8,215.8 453.8,216.1 452.2,216.1 452.2,217.1 450.6,217.1 450.6,215.8 449,215.8 449,224.9 447.4,224.9 447.4,212.3 445.8,212.3 445.8,213.1 444.2,213.1 444.2,217.6 442.6,217.6 442.6,215 441,215 441,215 439.4,215 439.4,218.6 437.8,218.6 437.8,220.2 436.2,220.2 436.2,215.5 434.6,215.5 434.6,215.5 433,215.5 433,217.4 431.4,217.4 431.4,219 429.8,219 429.8,218.1 428.2,218.1 428.2,217.5 426.6,217.5 426.6,216.5 425,216.5 425,218.1 423.4,218.1 423.4,220.1 421.8,220.1 421.8,213.7 420.2,213.7 420.2,211.4 418.6,211.4 418.6,219.3 417,219.3 417,217.3 415.4,217.3 415.4,218.5 413.8,218.5 413.8,217.1 412.2,217.1 412.2,221.9 410.6,221.9 410.6,222 409,222 409,219.7 407.4,219.7 407.4,221.7 405.8,221.7 405.8,218.6 404.2,218.6 404.2,216.4 402.6,216.4 402.6,218.2 401,218.2 401,220 399.4,220 399.4,216.7 397.8,216.7 397.8,215.1 396.2,215.1 396.2,213.4 394.6,213.4 394.6,227 393,227 393,213.7 391.4,213.7 391.4,217.3 389.8,217.3 389.8,220 388.2,220 388.2,215 386.6,215 386.6,215.6 385,215.6 385,216.7 383.4,216.7 383.4,220.2 381.8,220.2 381.8,218.1 380.2,218.1 380.2,213.5 378.6,213.5 378.6,214 377,214 377,215.8 375.4,215.8 375.4,212.1 373.8,212.1 373.8,218.3 372.2,218.3 372.2,219 370.6,219 370.6,215.2 369,215.2 369,215.9 367.4,215.9 367.4,223.8 365.8,223.8 365.8,218.7 364.2,218.7 364.2,212.2 362.6,212.2 362.6,220.1 361,220.1 361,213.3 359.4,213.3 359.4,219.9 357.8,219.9 357.8,212.9 356.2,212.9 356.2,217.1 354.6,217.1 354.6,213.2 353,213.2 353,216.8 351.4,216.8 351.4,217.7 349.8,217.7 349.8,222.9 348.2,222.9 348.2,223.1 346.6,223.1 346.6,218.6 345,218.6 345,215.2 343.4,215.2 343.4,217.3 341.8,217.3 341.8,214.7 340.2,214.7 340.2,215.2 338.6,215.2 338.6,217.4 337,217.4 337,215 335.4,215 335.4,212.5 333.8,212.5 333.8,215.8 332.2,215.8 332.2,219.9 330.6,219.9 330.6,217.6 329,217.6 329,216.2 327.4,216.2 327.4,215.9 325.8,215.9 325.8,215.9 324.2,215.9 324.2,222.5 322.6,222.5 322.6,218.7 321,218.7 321,217.4 319.4,217.4 319.4,217.9 317.8,217.9 317.8,215.3 316.2,215.3 316.2,221.9 314.6,221.9 314.6,217.8 313,217.8 313,217.2 311.4,217.2 311.4,221.3 309.8,221.3 309.8,216.2 308.2,216.2" fill="#c0232e"/>
<polygon points="308.2,202.7 309.8,202.7 309.8,195.2 311.4,195.2 311.4,202.1 313,202.1 313,203.3 314.6,203.3 314.6,200.4 316.2,200.4 316.2,199.8 317.8,199.8 317.8,203.7 319.4,203.7 319.4,202.3 321,202.3 321,192.4 322.6,192.4 322.6,203.9 324.2,203.9 324.2,203.6 325.8,203.6 325.8,199.9 327.4,199.9 327.4,202.7 329,202.7 329,202.2 330.6,202.2 330.6,205.4 332.2,205.4 332.2,199.5 333.8,199.5 333.8,200.3 335.4,200.3 335.4,195.5 337,195.5 337,197.9 338.6,197.9 338.6,204.1 340.2,204.1 340.2,199.4 341.8,199.4 341.8,198.4 343.4,198.4 343.4,203.3 345,203.3 345,199.6 346.6,199.6 346.6,200.6 348.2,200.6 348.2,199.4 349.8,199.4 349.8,199.7 351.4,199.7 351.4,205 353,205 353,195.6 354.6,195.6 354.6,195.6 356.2,195.6 356.2,181.5 357.8,181.5 357.8,181.8 359.4,181.8 359.4,172.6 361,172.6 361,166.3 362.6,166.3 362.6,162.1 364.2,162.1 364.2,155.3 365.8,155.3 365.8,157.8 367.4,157.8 367.4,159.3 369,159.3 369,162.2 370.6,162.2 370.6,151 372.2,151 372.2,157.2 373.8,157.2 373.8,159.2 375.4,159.2 375.4,159.7 377,159.7 377,155.6 378.6,155.6 378.6,151 380.2,151 380.2,152.2 381.8,152.2 381.8,151 383.4,151 383.4,160 385,160 385,157.7 386.6,157.7 386.6,158.2 388.2,158.2 388.2,153.9 389.8,153.9 389.8,157.6 391.4,157.6 391.4,159.8 393,159.8 393,153.9 394.6,153.9 394.6,158.1 396.2,158.1 396.2,159.8 397.8,159.8 397.8,155.5 399.4,155.5 399.4,151 401,151 401,152.1 402.6,152.1 402.6,154.9 404.2,154.9 404.2,155.9 405.8,155.9 405.8,156.8 407.4,156.8 407.4,152.2 409,152.2 409,155.3 410.6,155.3 410.6,157.5 412.2,157.5 412.2,156.2 413.8,156.2 413.8,156.4 415.4,156.4 415.4,158.5 417,158.5 417,157.1 418.6,157.1 418.6,156.3 420.2,156.3 420.2,158.5 421.8,158.5 421.8,154.4 423.4,154.4 423.4,160.7 425,160.7 425,157.3 426.6,157.3 426.6,154.2 428.2,154.2 428.2,157.5 429.8,157.5 429.8,156.1 431.4,156.1 431.4,163.3 433,163.3 433,158.1 434.6,158.1 434.6,161.2 436.2,161.2 436.2,161.4 437.8,161.4 437.8,151.7 439.4,151.7 439.4,155.8 441,155.8 441,160.8 442.6,160.8 442.6,160.8 444.2,160.8 444.2,159.7 445.8,159.7 445.8,158.7 447.4,158.7 447.4,161.3 449,161.3 449,153.4 450.6,153.4 450.6,157.1 452.2,157.1 452.2,152.8 453.8,152.8 453.8,159.6 455.4,159.6 455.4,153.1 457,153.1 457,153.5 458.6,153.5 458.6,159.1 460.2,159.1 460.2,151.1 461.8,151.1 461.8,155.6 463.4,155.6 463.4,160.7 465,160.7 465,159.7 466.6,159.7 466.6,151 468.2,151 468.2,160 469.8,160 469.8,154.6 471.4,154.6 471.4,160.1 473,160.1 473,159.2 474.6,159.2 474.6,166.5 476.2,166.5 476.2,177.8 477.8,177.8 477.8,185.1 479.4,185.1 479.4,190.4 481,190.4 481,190.9 482.6,190.9 482.6,199.1 484.2,199.1 484.2,201.7 485.8,201.7 485.8,195.1 487.4,195.1 487.4,200.4 489,200.4 489,201.3 490.6,201.3 490.6,205.8 492.2,205.8 492.2,197.2 493.8,197.2 493.8,199.9 495.4,199.9 495.4,199.9 497,199.9 497,203 498.6,203 498.6,199.5 500.2,199.5 500.2,202.9 501.8,202.9 501.8,201.1 503.4,201.1 503.4,198.8 505,198.8 505,195.6 506.6,195.6 506.6,200.7 508.2,200.7 508.2,197.9 509.8,197.9 509.8,199.4 511.4,199.4 511.4,199.3 513,199.3 513,199.2 514.6,199.2 514.6,200.2 516.2,200.2 516.2,205.4 517.8,205.4 517.8,218.3 516.2,218.3 516.2,227 514.6,227 514.6,224.4 513,224.4 513,221.4 511.4,221.4 511.4,216.5 509.8,216.5 509.8,216 508.2,216 508.2,218.6 506.6,218.6 506.6,224.5 505,224.5 505,217.6 503.4,217.6 503.4,220.3 501.8,220.3 501.8,218.3 500.2,218.3 500.2,217.7 498.6,217.7 498.6,226.3 497,226.3 497,216.6 495.4,216.6 495.4,218.9 493.8,218.9 493.8,219.5 492.2,219.5 492.2,219.5 490.6,219.5 490.6,214.5 489,214.5 489,217.5 487.4,217.5 487.4,217.2 485.8,217.2 485.8,219.4 484.2,219.4 484.2,222.5 482.6,222.5 482.6,205.7 481,205.7 481,205.3 479.4,205.3 479.4,198.9 477.8,198.9 477.8,191.1 476.2,191.1 476.2,191.6 474.6,191.6 474.6,180.5 473,180.5 473,176.4 471.4,176.4 471.4,178.4 469.8,178.4 469.8,182 468.2,182 468.2,178 466.6,178 466.6,173.3 465,173.3 465,177.2 463.4,177.2 463.4,177.7 461.8,177.7 461.8,180 460.2,180 460.2,177.1 458.6,177.1 458.6,173.8 457,173.8 457,175.7 455.4,175.7 455.4,177 453.8,177 453.8,174.5 452.2,174.5 452.2,176.6 450.6,176.6 450.6,172.2 449,172.2 449,185.4 447.4,185.4 447.4,180.1 445.8,180.1 445.8,169 444.2,169 444.2,174.9 442.6,174.9 442.6,174.4 441,174.4 441,173.6 439.4,173.6 439.4,172.7 437.8,172.7 437.8,171.8 436.2,171.8 436.2,181.3 434.6,181.3 434.6,178 433,178 433,172.1 431.4,172.1 431.4,177.2 429.8,177.2 429.8,179.2 428.2,179.2 428.2,187.6 426.6,187.6 426.6,174.4 425,174.4 425,169.7 423.4,169.7 423.4,185.6 421.8,185.6 421.8,174.8 420.2,174.8 420.2,177.5 418.6,177.5 418.6,170.9 417,170.9 417,175.8 415.4,175.8 415.4,173.3 413.8,173.3 413.8,176.2 412.2,176.2 412.2,174.5 410.6,174.5 410.6,177.3 409,177.3 409,172.4 407.4,172.4 407.4,175.2 405.8,175.2 405.8,181.4 404.2,181.4 404.2,174.9 402.6,174.9 402.6,176.7 401,176.7 401,176.3 399.4,176.3 399.4,174.2 397.8,174.2 397.8,178.4 396.2,178.4 396.2,175.8 394.6,175.8 394.6,175.9 393,175.9 393,180 391.4,180 391.4,173.1 389.8,173.1 389.8,177.8 388.2,177.8 388.2,184.6 386.6,184.6 386.6,190.2 385,190.2 385,175.4 383.4,175.4 383.4,177.7 381.8,177.7 381.8,171.9 380.2,171.9 380.2,177.5 378.6,177.5 378.6,176.6 377,176.6 377,173.8 375.4,173.8 375.4,173.1 373.8,173.1 373.8,178.2 372.2,178.2 372.2,175.4 370.6,175.4 370.6,172.7 369,172.7 369,177.8 367.4,177.8 367.4,174 365.8,174 365.8,178 364.2,178 364.2,180.5 362.6,180.5 362.6,184 361,184 361,186.9 359.4,186.9 359.4,199 357.8,199 357.8,204.1 356.2,204.1 356.2,221.9 354.6,221.9 354.6,214.4 353,214.4 353,216.4 351.4,216.4 351.4,221.9 349.8,221.9 349.8,215.7 348.2,215.7 348.2,215.4 346.6,215.4 346.6,218.4 345,218.4 345,218.2 343.4,218.2 343.4,224.7 341.8,224.7 341.8,216.5 340.2,216.5 340.2,218.1 338.6,218.1 338.6,216.1 337,216.1 337,213.1 335.4,213.1 335.4,219 333.8,219 333.8,219.8 332.2,219.8 332.2,224.6 330.6,224.6 330.6,221.9 329,221.9 329,218.3 327.4,218.3 327.4,220.8 325.8,220.8 325.8,219.3 324.2,219.3 324.2,217.3 322.6,217.3 322.6,218.6 321,218.6 321,215.3 319.4,215.3 319.4,215.9 317.8,215.9 317.8,219.4 316.2,219.4 316.2,220.7 314.6,220.7 314.6,221.3 313,221.3 313,215.7 311.4,215.7 311.4,218.2 309.8,218.2 309.8,215.6 308.2,215.6" fill="#3249a6"/>
<polygon points="308.2,284.3 309.5,284.3 309.5,283.9 310.8,283.9 310.8,283.9 312.1,283.9 312.1,282.9 313.4,282.9 313.4,283.9 314.7,283.9 314.7,283.2 316,283.2 316,281.8 317.3,281.8 317.3,282.2 318.6,282.2 318.6,283.7 319.9,283.7 319.9,286.3 321.2,286.3 321.2,281.2 322.5,281.2 322.5,284.9 323.8,284.9 323.8,284 325.1,284 325.1,284.6 326.4,284.6 326.4,281.4 327.7,281.4 327.7,282.8 329,282.8 329,285.9 330.3,285.9 330.3,284 331.6,284 331.6,284.8 332.9,284.8 332.9,286.1 334.2,286.1 334.2,281.7 335.5,281.7 335.5,283.2 336.8,283.2 336.8,283.8 338.1,283.8 338.1,281.2 339.4,281.2 339.4,280.2 340.7,280.2 340.7,282.8 342,282.8 342,284.9 343.3,284.9 343.3,285.9 344.6,285.9 344.6,282.8 345.9,282.8 345.9,284.8 347.2,284.8 347.2,283.5 348.5,283.5 348.5,284.9 349.8,284.9 349.8,280.7 351.1,280.7 351.1,278.7 352.4,278.7 352.4,277.9 353.7,277.9 353.7,279.1 355,279.1 355,271.7 356.3,271.7 356.3,273.4 357.6,273.4 357.6,273.2 358.9,273.2 358.9,271.6 360.2,271.6 360.2,267.8 361.5,267.8 361.5,265.4 362.8,265.4 362.8,263.7 364.1,263.7 364.1,263.9 365.4,263.9 365.4,263.8 366.7,263.8 366.7,263.1 368,263.1 368,261.9 369.3,261.9 369.3,264.7 370.6,264.7 370.6,263.3 371.9,263.3 371.9,261.9 373.2,261.9 373.2,261.3 374.5,261.3 374.5,264.4 375.8,264.4 375.8,263.1 377.1,263.1 377.1,260.3 378.4,260.3 378.4,261.6 379.7,261.6 379.7,264.7 381,264.7 381,261.6 382.3,261.6 382.3,258 383.6,258 383.6,262.4 384.9,262.4 384.9,261.7 386.2,261.7 386.2,258.2 387.5,258.2 387.5,263.7 388.8,263.7 388.8,259.8 390.1,259.8 390.1,261.7 391.4,261.7 391.4,256.9 392.7,256.9 392.7,258.1 394,258.1 394,263.5 395.3,263.5 395.3,261.5 396.6,261.5 396.6,256 397.9,256 397.9,263.3 399.2,263.3 399.2,263.1 400.5,263.1 400.5,257.7 401.8,257.7 401.8,262.8 403.1,262.8 403.1,262.6 404.4,262.6 404.4,263.2 405.7,263.2 405.7,262.4 407,262.4 407,262.5 408.3,262.5 408.3,262.6 409.6,262.6 409.6,264 410.9,264 410.9,262.9 412.2,262.9 412.2,263.6 413.5,263.6 413.5,261.1 414.8,261.1 414.8,258 416.1,258 416.1,262.2 417.4,262.2 417.4,260.5 418.7,260.5 418.7,263 420,263 420,263 421.3,263 421.3,264.3 422.6,264.3 422.6,257.5 423.9,257.5 423.9,260.4 425.2,260.4 425.2,260.2 426.5,260.2 426.5,260.3 427.8,260.3 427.8,263 429.1,263 429.1,264.1 430.4,264.1 430.4,262.7 431.7,262.7 431.7,262.5 433,262.5 433,262.6 434.3,262.6 434.3,261.8 435.6,261.8 435.6,262.9 436.9,262.9 436.9,260.8 438.2,260.8 438.2,259.3 439.5,259.3 439.5,256 440.8,256 440.8,261.1 442.1,261.1 442.1,263.5 443.4,263.5 443.4,263.2 444.7,263.2 444.7,262.1 446,262.1 446,260.9 447.3,260.9 447.3,259.5 448.6,259.5 448.6,262.9 449.9,262.9 449.9,262.4 451.2,262.4 451.2,257.9 452.5,257.9 452.5,261.4 453.8,261.4 453.8,263.1 455.1,263.1 455.1,264 456.4,264 456.4,256 457.7,256 457.7,262.5 459,262.5 459,260.4 460.3,260.4 460.3,263.3 461.6,263.3 461.6,262.3 462.9,262.3 462.9,261.8 464.2,261.8 464.2,264 465.5,264 465.5,264.4 466.8,264.4 466.8,262.9 468.1,262.9 468.1,265.2 469.4,265.2 469.4,269.5 470.7,269.5 470.7,270 472,270 472,272.7 473.3,272.7 473.3,274.5 474.6,274.5 474.6,274.3 475.9,274.3 475.9,279.5 477.2,279.5 477.2,278.4 478.5,278.4 478.5,281.9 479.8,281.9 479.8,285.8 481.1,285.8 481.1,284.3 482.4,284.3 482.4,285.4 483.7,285.4 483.7,283.9 485,283.9 485,282.1 486.3,282.1 486.3,285.2 487.6,285.2 487.6,284.1 488.9,284.1 488.9,288.8 490.2,288.8 490.2,287.6 491.5,287.6 491.5,282.5 492.8,282.5 492.8,286.3 494.1,286.3 494.1,285.1 495.4,285.1 495.4,287.2 496.7,287.2 496.7,285.1 498,285.1 498,283.1 499.3,283.1 499.3,285.3 500.6,285.3 500.6,285.5 501.9,285.5 501.9,285.9 503.2,285.9 503.2,285.4 504.5,285.4 504.5,286.3 505.8,286.3 505.8,286.3 507.1,286.3 507.1,281.1 508.4,281.1 508.4,280 509.7,280 509.7,287.5 511,287.5 511,285.7 512.3,285.7 512.3,285.6 513.6,285.6 513.6,285.7 514.9,285.7 514.9,285.7 516.2,285.7 516.2,282.6 517.5,282.6 517.5,297.2 516.2,297.2 516.2,297.2 514.9,297.2 514.9,296.4 513.6,296.4 513.6,299.7 512.3,299.7 512.3,299.5 511,299.5 511,297.2 509.7,297.2 509.7,298.8 508.4,298.8 508.4,297.5 507.1,297.5 507.1,296.1 505.8,296.1 505.8,297.9 504.5,297.9 504.5,293.1 503.2,293.1 503.2,298 501.9,298 501.9,296.3 500.6,296.3 500.6,297.9 499.3,297.9 499.3,298.5 498,298.5 498,297.6 496.7,297.6 496.7,296.9 495.4,296.9 495.4,298.4 494.1,298.4 494.1,298 492.8,298 492.8,298.7 491.5,298.7 491.5,296.1 490.2,296.1 490.2,300 488.9,300 488.9,299.1 487.6,299.1 487.6,293.8 486.3,293.8 486.3,297.7 485,297.7 485,296.6 483.7,296.6 483.7,296.6 482.4,296.6 482.4,294.1 481.1,294.1 481.1,295.1 479.8,295.1 479.8,295.1 478.5,295.1 478.5,297.9 477.2,297.9 477.2,288.6 475.9,288.6 475.9,286.1 474.6,286.1 474.6,284.2 473.3,284.2 473.3,279 472,279 472,278.1 470.7,278.1 470.7,276.2 469.4,276.2 469.4,275.6 468.1,275.6 468.1,274 466.8,274 466.8,278.1 465.5,278.1 465.5,274.9 464.2,274.9 464.2,271.5 462.9,271.5 462.9,271.7 461.6,271.7 461.6,272.4 460.3,272.4 460.3,273.1 459,273.1 459,273.9 457.7,273.9 457.7,274.1 456.4,274.1 456.4,274.4 455.1,274.4 455.1,273.8 453.8,273.8 453.8,275.4 452.5,275.4 452.5,272 451.2,272 451.2,273.8 449.9,273.8 449.9,273.5 448.6,273.5 448.6,273.5 447.3,273.5 447.3,275.6 446,275.6 446,274.9 444.7,274.9 444.7,273.6 443.4,273.6 443.4,273.4 442.1,273.4 442.1,272.1 440.8,272.1 440.8,272.4 439.5,272.4 439.5,271.8 438.2,271.8 438.2,273 436.9,273 436.9,273.2 435.6,273.2 435.6,277.5 434.3,277.5 434.3,271.7 433,271.7 433,275.6 431.7,275.6 431.7,273.4 430.4,273.4 430.4,271.2 429.1,271.2 429.1,269.2 427.8,269.2 427.8,271.8 426.5,271.8 426.5,271.8 425.2,271.8 425.2,273.4 423.9,273.4 423.9,269.7 422.6,269.7 422.6,278.4 421.3,278.4 421.3,272.1 420,272.1 420,278 418.7,278 418.7,272.1 417.4,272.1 417.4,274 416.1,274 416.1,272.8 414.8,272.8 414.8,273.5 413.5,273.5 413.5,271.6 412.2,271.6 412.2,274.4 410.9,274.4 410.9,273.1 409.6,273.1 409.6,272.2 408.3,272.2 408.3,276 407,276 407,271.1 405.7,271.1 405.7,276.5 404.4,276.5 404.4,272.4 403.1,272.4 403.1,275.3 401.8,275.3 401.8,270.4 400.5,270.4 400.5,278.5 399.2,278.5 399.2,271.7 397.9,271.7 397.9,273.8 396.6,273.8 396.6,275.1 395.3,275.1 395.3,270.6 394,270.6 394,271.7 392.7,271.7 392.7,273.6 391.4,273.6 391.4,275 390.1,275 390.1,273.9 388.8,273.9 388.8,271.8 387.5,271.8 387.5,273 386.2,273 386.2,271.7 384.9,271.7 384.9,274.7 383.6,274.7 383.6,275.4 382.3,275.4 382.3,270.7 381,270.7 381,271.4 379.7,271.4 379.7,272.9 378.4,272.9 378.4,272.7 377.1,272.7 377.1,273 375.8,273 375.8,273.2 374.5,273.2 374.5,274 373.2,274 373.2,273.1 371.9,273.1 371.9,272.1 370.6,272.1 370.6,276.8 369.3,276.8 369.3,273.4 368,273.4 368,274.4 366.7,274.4 366.7,274.9 365.4,274.9 365.4,273 364.1,273 364.1,270.6 362.8,270.6 362.8,272.2 361.5,272.2 361.5,276.9 360.2,276.9 360.2,277.6 358.9,277.6 358.9,281.8 357.6,281.8 357.6,284.2 356.3,284.2 356.3,287.5 355,287.5 355,290.4 353.7,290.4 353.7,290.9 352.4,290.9 352.4,294 351.1,294 351.1,294.3 349.8,294.3 349.8,293.2 348.5,293.2 348.5,295.7 347.2,295.7 347.2,293.4 345.9,293.4 345.9,296.9 344.6,296.9 344.6,292.7 343.3,292.7 343.3,294.2 342,294.2 342,294.9 340.7,294.9 340.7,293.3 339.4,293.3 339.4,293.4 338.1,293.4 338.1,294 336.8,294 336.8,298.2 335.5,298.2 335.5,297.1 334.2,297.1 334.2,295.2 332.9,295.2 332.9,292.3 331.6,292.3 331.6,293.7 330.3,293.7 330.3,293.1 329,293.1 329,296.5 327.7,296.5 327.7,291.4 326.4,291.4 326.4,293.8 325.1,293.8 325.1,295.3 323.8,295.3 323.8,293.4 322.5,293.4 322.5,294.2 321.2,294.2 321.2,297.7 319.9,297.7 319.9,293.1 318.6,293.1 318.6,294.5 317.3,294.5 317.3,293.1 316,293.1 316,293.3 314.7,293.3 314.7,295.4 313.4,295.4 313.4,295.8 312.1,295.8 312.1,294.9 310.8,294.9 310.8,293.6 309.5,293.6 309.5,295.3 308.2,295.3" fill="#3a633a"/>
<text x="331.2" y="142.9" font-family="Liberation Sans, sans-serif" font-size="15.5" fill="#151515">100 µs</text>
<polyline points="386.6,146.5 316,146.5 316,183.6" fill="none" stroke="#151515" stroke-width="1.7"/>
<text transform="translate(334.2,166.6) rotate(-90)" font-family="Liberation Sans, sans-serif" font-size="15.4" fill="#151515" text-anchor="middle" textLength="29.2" lengthAdjust="spacingAndGlyphs">1 nA</text>
<line x1="420.4" y1="131.5" x2="451.7" y2="131.5" stroke="#c0232e" stroke-width="2.2"/>
<line x1="421" y1="147.2" x2="451.7" y2="147.2" stroke="#3249a6" stroke-width="2.2"/>
<text x="454" y="137" font-family="Liberation Sans, sans-serif" font-size="15.7" fill="#b7242c">w/o ICG</text>
<text x="454" y="151.7" font-family="Liberation Sans, sans-serif" font-size="15.7" fill="#30429a">w/ ICG</text>
<text transform="translate(338.8,254.2) rotate(-90)" font-family="Liberation Sans, sans-serif" font-size="15.5" fill="#151515" text-anchor="middle">10 nm</text>
<line x1="346.3" y1="248.3" x2="346.3" y2="270.3" stroke="#151515" stroke-width="1.6"/>
<line x1="341.8" y1="248.3" x2="350.8" y2="248.3" stroke="#151515" stroke-width="1.6"/>
<line x1="341.8" y1="270.3" x2="350.8" y2="270.3" stroke="#151515" stroke-width="1.6"/>
<rect x="307.1" y="20.8" width="211.1" height="281.3" fill="none" stroke="#151515" stroke-width="2.2"/>
<line x1="307.1" y1="231.1" x2="518.2" y2="231.1" stroke="#151515" stroke-width="2"/>
<path d="M339.8,30.9 L355.6,30.9 Q357.4,30.9 357.4,32.7 L357.38,33.66 L357.37,34.98 L357.36,36.29 L357.35,37.61 L357.34,38.92 L357.33,40.23 L357.33,41.55 L357.32,42.86 L357.31,44.17 L357.30,45.49 L357.29,46.80 L357.28,48.11 L357.27,49.43 L357.26,50.74 L357.24,52.05 L357.17,53.37 L357.08,54.68 L356.95,55.99 L356.80,57.31 L356.62,58.62 L356.42,59.93 L356.19,61.25 L355.94,62.56 L355.67,63.87 L355.37,65.19 L355.05,66.50 L354.71,67.81 L354.35,69.13 L353.97,70.44 L353.57,71.75 L353.15,73.07 L352.71,74.38 L352.25,75.69 L351.77,77.01 L351.27,78.32 L350.75,79.63 L350.22,80.95 L349.67,82.26 L349.09,83.57 L348.51,84.89 L347.90,86.20 L347.90,86.20 L347.28,84.89 L346.68,83.57 L346.09,82.26 L345.52,80.95 L344.97,79.63 L344.44,78.32 L343.93,77.01 L343.43,75.69 L342.96,74.38 L342.50,73.07 L342.07,71.75 L341.65,70.44 L341.25,69.13 L340.88,67.81 L340.52,66.50 L340.19,65.19 L339.88,63.87 L339.59,62.56 L339.33,61.25 L339.08,59.93 L338.86,58.62 L338.67,57.31 L338.51,55.99 L338.37,54.68 L338.26,53.37 L338.18,52.05 L338.14,50.74 L338.13,49.43 L338.12,48.11 L338.11,46.80 L338.10,45.49 L338.09,44.17 L338.08,42.86 L338.07,41.55 L338.07,40.23 L338.06,38.92 L338.05,37.61 L338.04,36.29 L338.03,34.98 L338.02,33.66 L338,32.7 Q338,30.9 339.8,30.9 Z" fill="url(#tg)"/>
<path d="M477.8,30.9 L493.8,30.9 Q495.6,30.9 495.6,32.7 L495.58,33.69 L495.57,35.01 L495.56,36.33 L495.55,37.65 L495.54,38.98 L495.53,40.30 L495.52,41.62 L495.52,42.95 L495.51,44.27 L495.50,45.59 L495.49,46.91 L495.48,48.24 L495.47,49.56 L495.46,50.88 L495.44,52.21 L495.38,53.53 L495.30,54.85 L495.18,56.17 L495.03,57.50 L494.86,58.82 L494.66,60.14 L494.44,61.47 L494.19,62.79 L493.92,64.11 L493.63,65.43 L493.32,66.76 L492.98,68.08 L492.62,69.40 L492.25,70.73 L491.85,72.05 L491.43,73.37 L490.99,74.69 L490.53,76.02 L490.06,77.34 L489.56,78.66 L489.05,79.99 L488.51,81.31 L487.96,82.63 L487.39,83.95 L486.80,85.28 L486.20,86.60 L486.20,86.60 L485.57,85.28 L484.95,83.95 L484.35,82.63 L483.77,81.31 L483.21,79.99 L482.66,78.66 L482.14,77.34 L481.63,76.02 L481.14,74.69 L480.67,73.37 L480.23,72.05 L479.80,70.73 L479.39,69.40 L479.00,68.08 L478.64,66.76 L478.29,65.43 L477.97,64.11 L477.67,62.79 L477.40,61.47 L477.15,60.14 L476.92,58.82 L476.72,57.50 L476.54,56.17 L476.39,54.85 L476.27,53.53 L476.19,52.21 L476.14,50.88 L476.13,49.56 L476.12,48.24 L476.11,46.91 L476.10,45.59 L476.09,44.27 L476.08,42.95 L476.08,41.62 L476.07,40.30 L476.06,38.98 L476.05,37.65 L476.04,36.33 L476.03,35.01 L476.02,33.69 L476,32.7 Q476,30.9 477.8,30.9 Z" fill="url(#tg)"/>
<path d="M404.2,8.4 L420.1,8.4 Q421.9,8.4 421.9,10.2 L421.88,11.15 L421.87,12.46 L421.86,13.76 L421.85,15.07 L421.84,16.38 L421.83,17.68 L421.82,18.99 L421.82,20.29 L421.81,21.60 L421.80,22.91 L421.79,24.21 L421.78,25.52 L421.77,26.82 L421.76,28.13 L421.74,29.44 L421.69,30.74 L421.60,32.05 L421.49,33.36 L421.34,34.66 L421.17,35.97 L420.98,37.27 L420.76,38.58 L420.52,39.89 L420.25,41.19 L419.96,42.50 L419.65,43.81 L419.32,45.11 L418.97,46.42 L418.59,47.72 L418.20,49.03 L417.78,50.34 L417.35,51.64 L416.90,52.95 L416.42,54.26 L415.93,55.56 L415.42,56.87 L414.89,58.17 L414.35,59.48 L413.78,60.79 L413.20,62.09 L412.60,63.40 L412.60,63.40 L411.97,62.09 L411.35,60.79 L410.75,59.48 L410.17,58.17 L409.61,56.87 L409.07,55.56 L408.54,54.26 L408.04,52.95 L407.55,51.64 L407.08,50.34 L406.63,49.03 L406.21,47.72 L405.80,46.42 L405.41,45.11 L405.05,43.81 L404.70,42.50 L404.38,41.19 L404.08,39.89 L403.81,38.58 L403.55,37.27 L403.32,35.97 L403.12,34.66 L402.94,33.36 L402.80,32.05 L402.68,30.74 L402.59,29.44 L402.54,28.13 L402.53,26.82 L402.52,25.52 L402.51,24.21 L402.50,22.91 L402.49,21.60 L402.48,20.29 L402.48,18.99 L402.47,17.68 L402.46,16.38 L402.45,15.07 L402.44,13.76 L402.43,12.46 L402.42,11.15 L402.4,10.2 Q402.4,8.4 404.2,8.4 Z" fill="url(#tg)"/>
<rect x="294.2" y="-4" width="26.5" height="29.3" rx="3.6" fill="#000"/>
<text x="307.6" y="21.4" font-family="Liberation Sans, sans-serif" font-size="25" fill="#fff" text-anchor="middle" font-weight="bold">b</text>
<text transform="translate(299.1,168.7) rotate(-90)" font-family="Liberation Sans, sans-serif" font-size="16" fill="#151515" text-anchor="middle">Ion current</text>
<text transform="translate(299.6,270.8) rotate(-90)" font-family="Liberation Sans, sans-serif" font-size="16" fill="#151515" text-anchor="middle">Piezo drive</text>
<text x="417.8" y="324.3" font-family="Liberation Sans, sans-serif" font-size="15.8" fill="#151515" text-anchor="middle">Time</text>
</svg>
</body></html>
